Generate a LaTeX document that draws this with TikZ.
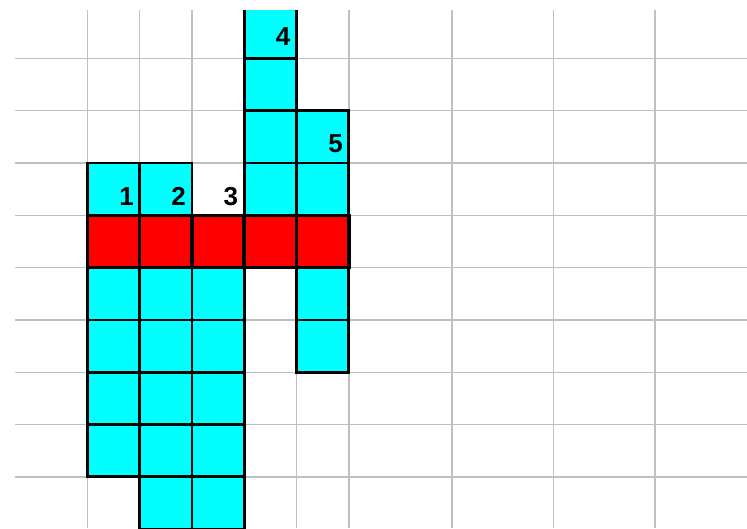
\documentclass[tikz,border=0pt]{standalone}
\usepackage{fontspec}
\setsansfont{Liberation Sans}
\definecolor{cellcyan}{RGB}{0,255,255}
\definecolor{cellred}{RGB}{255,0,0}
\definecolor{gridgray}{RGB}{192,192,192}

\begin{document}
\begin{tikzpicture}[x=1pt, y=-1pt,
      gridline/.style={gridgray, line width=1.6pt},
      cell/.style={draw=black, line width=2.8pt, fill=cellcyan},
      redcell/.style={draw=black, line width=3.6pt, fill=cellred},
      num/.style={font=\sffamily\bfseries\fontsize{26}{26}\selectfont, anchor=base east, inner sep=0pt}]
    \useasboundingbox (0,0) rectangle (747,528);
    % background grid
    \foreach \y in {58.3,110.6,163,215.3,267.6,320,372.3,424.6,477}
      \draw[gridline] (15,\y) -- (747,\y);
    \foreach \x in {87.3,139.6,192,244.3,296.6,349,452,553.5,655}
      \draw[gridline] (\x,10) -- (\x,528);
    % columns and rows counted from the red row
    \begin{scope}
      \clip (0,10) rectangle (747,528);
      \foreach \c/\r in {0/-1,0/1,0/2,0/3,0/4,
                         1/-1,1/1,1/2,1/3,1/4,1/5,
                         2/1,2/2,2/3,2/4,2/5,
                         3/-4,3/-3,3/-2,3/-1,
                         4/-2,4/-1,4/1,4/2}
        \draw[cell] ({87.3+52.3*\c},{215.3+52.3*\r}) rectangle ++(52.3,52.3);
      \foreach \c in {0,...,4}
        \draw[redcell] ({87.3+52.3*\c},215.3) rectangle ++(52.3,52.3);
    \end{scope}
    % labels
    \foreach \n/\x/\y in {1/134/205,2/186/205,3/238.3/205,4/290.6/45,5/343/152}
      \node[num] (lab\n) at (\x,\y) {\n};
  \end{tikzpicture}
\end{document}
